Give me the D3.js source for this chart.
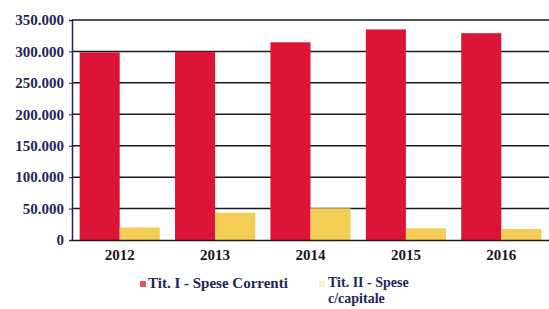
<!DOCTYPE html>
<html>
<head>
<meta charset="utf-8">
<title>Spese</title>
<script src="https://d3js.org/d3.v7.min.js"></script>
<style>
  body { margin: 0; background: #fff; }
</style>
</head>
<body>
<div id="chart"></div>
<script>
  const years = ["2012", "2013", "2014", "2015", "2016"];
  const speseCorrenti = [298500, 299500, 314500, 335000, 329000];
  const speseCapitale = [20000, 43500, 50500, 18500, 17500];
  const yTicks = [0, 50000, 100000, 150000, 200000, 250000, 300000, 350000];
  const seriesNames = ["Tit. I - Spese Correnti", "Tit. II - Spese c/capitale"];

  const width = 549, height = 309;
  const serif = "'Liberation Serif'";
  const svg = d3.select("#chart").append("svg")
    .attr("width", width).attr("height", height);

  const x = d3.scaleBand().domain(years).range([72, 549])
    .paddingInner(0.16).paddingOuter(0.08);
  const sub = d3.scaleBand().domain([0, 1]).range([0, x.bandwidth()]);
  const y = d3.scaleLinear().domain([0, 350000]).range([240, 20]);

  const fmt = v => v === 0 ? "0" : d3.format(",")(v).replace(/,/g, ".");

  // gridlines
  svg.append("g").selectAll("line").data(yTicks.filter(d => d > 0)).join("line")
    .attr("x1", 72).attr("x2", width)
    .attr("y1", d => y(d)).attr("y2", d => y(d))
    .attr("stroke", "#1a1a1a").attr("stroke-width", 1.5);

  const colors = ["#dc1437", "#f4cd57"];
  const series = [speseCorrenti, speseCapitale];
  series.forEach((vals, i) => {
    svg.append("g").selectAll("rect").data(vals).join("rect")
      .attr("x", (d, j) => x(years[j]) + sub(i))
      .attr("width", sub.bandwidth())
      .attr("y", d => y(d))
      .attr("height", d => y(0) - y(d))
      .attr("fill", colors[i]);
  });

  // y axis
  const yAxis = svg.append("g").attr("transform", "translate(72,0)")
    .call(d3.axisLeft(y).tickValues(yTicks).tickFormat(fmt).tickSize(3).tickPadding(5));
  yAxis.select(".domain").attr("stroke", "#1d2450").attr("stroke-width", 1.5);
  yAxis.selectAll(".tick line").attr("stroke", "#1d2450");
  yAxis.selectAll("text").attr("fill", "#1d2658")
    .style("font-family", serif).style("font-weight", "bold").style("font-size", "15px");

  // x axis
  const xAxis = svg.append("g").attr("transform", "translate(0,240)")
    .call(d3.axisBottom(x).tickSize(0).tickPadding(9));
  xAxis.select(".domain").attr("stroke", "#1a1a1a").attr("stroke-width", 1.5);
  xAxis.selectAll("text").attr("fill", "#15151f")
    .style("font-family", serif).style("font-weight", "bold").style("font-size", "15px");

  // legend
  const legend = svg.append("g")
    .style("font-family", serif).style("font-weight", "bold").attr("fill", "#1d2658");
  legend.append("rect").attr("x", 140).attr("y", 281).attr("width", 6).attr("height", 6)
    .attr("fill", "#e8506a");
  legend.append("text").attr("x", 148).attr("y", 288).style("font-size", "15px")
    .text(seriesNames[0]);
  legend.append("rect").attr("x", 319).attr("y", 281).attr("width", 6).attr("height", 6)
    .attr("fill", "#f5f2c8");
  legend.append("text").attr("x", 328).attr("y", 287).style("font-size", "14px")
    .text("Tit. II - Spese");
  legend.append("text").attr("x", 328).attr("y", 303).style("font-size", "14px")
    .text("c/capitale");
</script>
</body>
</html>
